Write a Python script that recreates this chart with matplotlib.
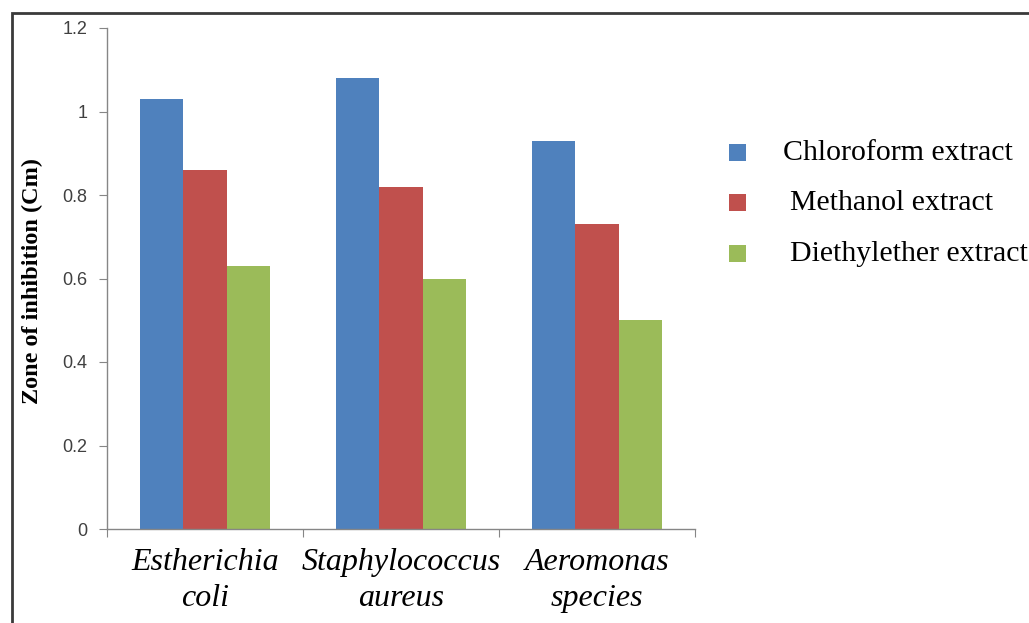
import matplotlib
matplotlib.use("Agg")
import matplotlib.pyplot as plt
from matplotlib.patches import Rectangle
import numpy as np

categories = ["Estherichia\ncoli", "Staphylococcus\naureus", "Aeromonas\nspecies"]
series_names = ["Chloroform extract", "Methanol extract", "Diethylether extract"]
chloroform = [1.03, 1.08, 0.93]
methanol = [0.86, 0.82, 0.73]
diethylether = [0.63, 0.60, 0.50]
yticks = [0, 0.2, 0.4, 0.6, 0.8, 1.0, 1.2]
ytick_labels = ["0", "0.2", "0.4", "0.6", "0.8", "1", "1.2"]
colors = ["#4F81BD", "#C0504D", "#9BBB59"]

W, H = 1029, 623
fig = plt.figure(figsize=(W / 100, H / 100), dpi=100)

def px(x0, y0, x1, y1):
    return [x0 / W, 1 - y1 / H, (x1 - x0) / W, (y1 - y0) / H]

ax = fig.add_axes(px(107, 28, 695, 529))
n = len(categories)
x = np.arange(n)
bw = 1 / 4.5
for i, (vals, c, name) in enumerate(zip([chloroform, methanol, diethylether], colors, series_names)):
    ax.bar(x + (i - 1) * bw, vals, width=bw, color=c, label=name, zorder=2)

ax.set_xlim(-0.5, n - 0.5)
ax.set_ylim(0, 1.2)
ax.set_yticks(yticks)
ax.set_yticklabels(ytick_labels, fontsize=13, color="#404040", family="Liberation Sans")
ax.set_xticks(np.arange(-0.5, n, 1.0))
ax.set_xticklabels([])
ax.set_xticks(x, minor=True)
ax.set_xticklabels(categories, minor=True, fontsize=23, family="Liberation Serif",
                   style="italic", linespacing=1.3)
ax.tick_params(axis="x", which="minor", length=0, pad=14)
ax.tick_params(axis="x", which="major", length=6, color="#868686", direction="out")
ax.tick_params(axis="y", length=6, color="#868686", direction="out", pad=8)
for s in ["top", "right"]:
    ax.spines[s].set_visible(False)
for s in ["left", "bottom"]:
    ax.spines[s].set_color("#868686")
    ax.spines[s].set_linewidth(1)

fig.text(32 / W, 1 - 281 / H, "Zone of inhibition (Cm)", rotation=90, ha="center", va="center",
         fontsize=17.5, fontweight="bold", family="Liberation Serif")

# legend
leg_rows = [153, 203, 254]
text_x = [783, 790, 790]
for name, c, yy, tx in zip(series_names, colors, leg_rows, text_x):
    fig.patches.append(Rectangle((729 / W, 1 - (yy + 8) / H), 17 / W, 17 / H,
                                 transform=fig.transFigure, facecolor=c, edgecolor="none"))
    fig.text(tx / W, 1 - yy / H, name, ha="left", va="center", fontsize=21.5,
             family="Liberation Serif")

# outer frame
fig.patches.append(Rectangle((12 / W, -0.05), 1.1, 1 - 13 / H + 0.05, transform=fig.transFigure,
                             facecolor="none", edgecolor="#3a3a3a", linewidth=2))

fig.savefig("out.png", dpi=100)
